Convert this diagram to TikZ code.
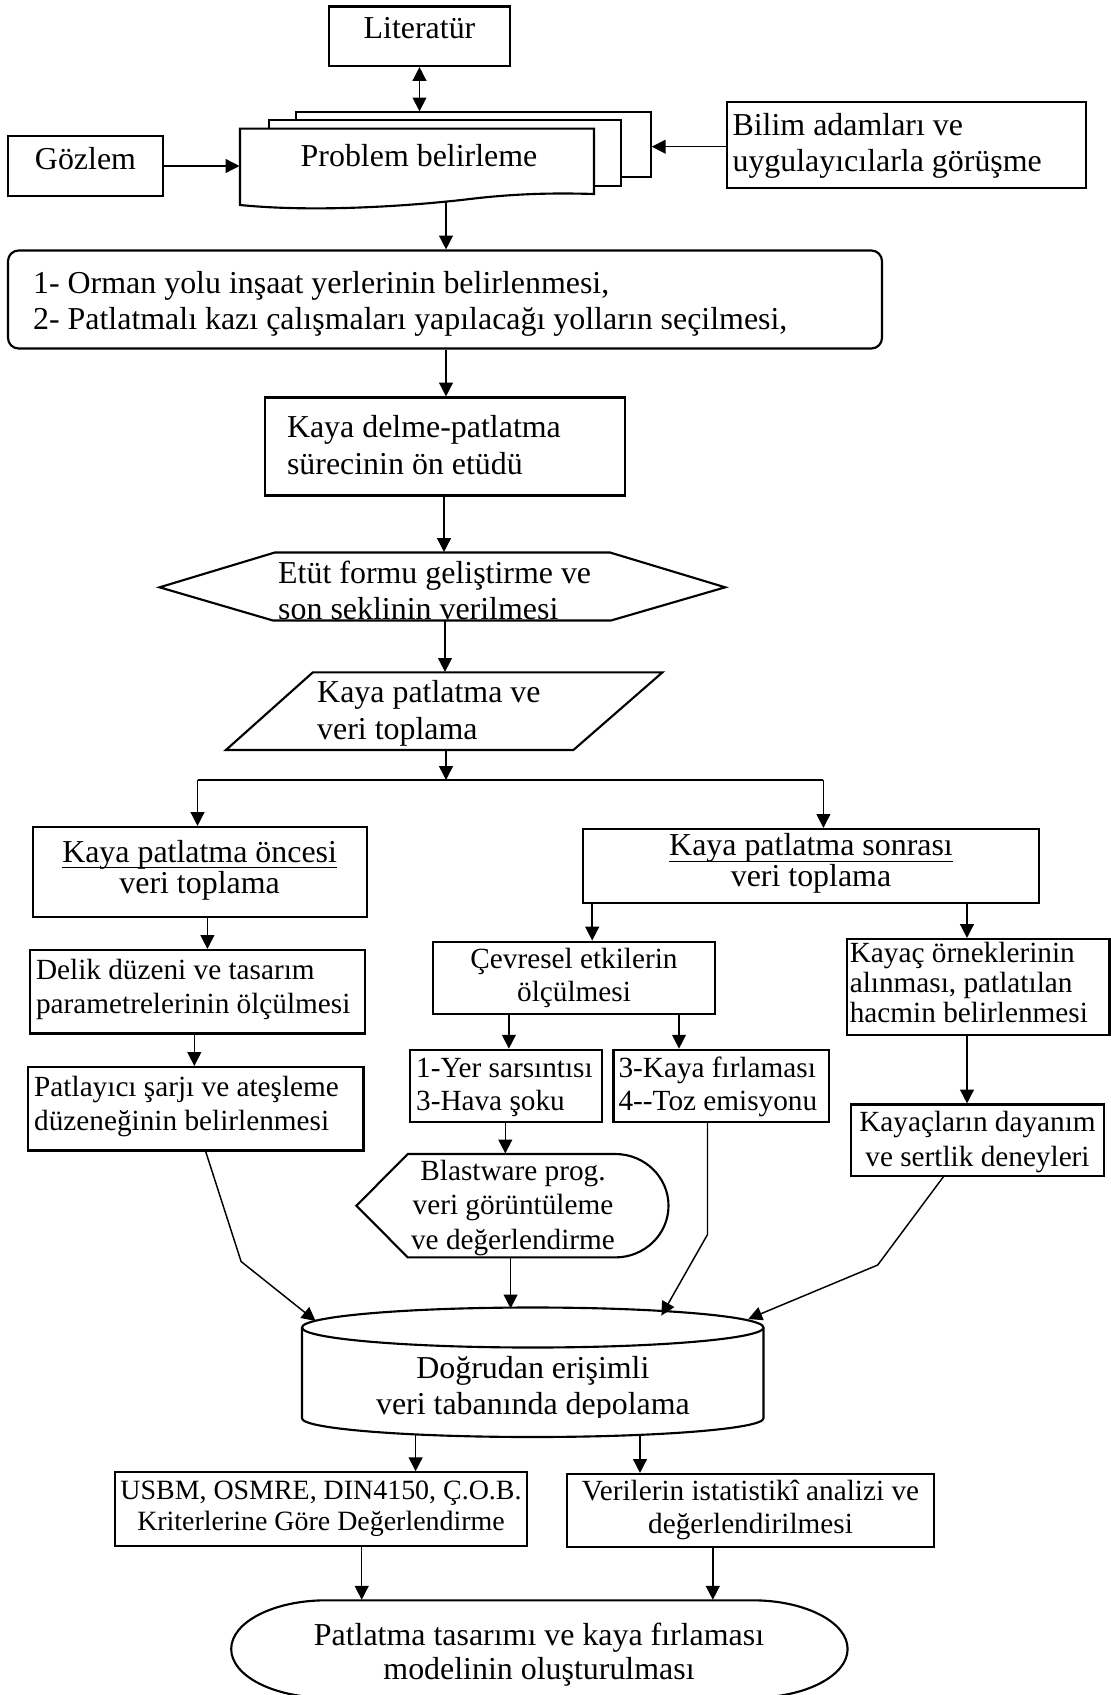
\documentclass[tikz,border=0pt]{standalone}
\usepackage{fontspec}
\setmainfont{Liberation Serif}
\usetikzlibrary{arrows.meta,fit}
\newcommand\myuline[1]{\setbox0=\hbox{#1}\rlap{\rule[-2.4pt]{\wd0}{0.5pt}}\box0}
\tikzset{
  bx/.style={draw, line width=0.8pt, inner sep=0pt, fill=white},
  ph/.style={inner sep=0pt},
  shp/.style={draw, line width=0.8pt, fill=white},
  ln/.style={line width=0.55pt},
  arr/.style={line width=0.55pt, -{Triangle[length=5.2pt,width=5.2pt]}},
  darr/.style={line width=0.55pt, {Triangle[length=5.2pt,width=5.2pt]}-{Triangle[length=5.2pt,width=5.2pt]}},
  tx/.style 2 args={inner sep=0pt, font=\fontsize{#1}{#2}\selectfont},
}
\begin{document}
\begin{tikzpicture}[x=0.376pt, y=-0.376pt]
\path[use as bounding box, fill=white] (0,0) rectangle (1111,1695);

% Literatur
\node[bx, fit={(329,6.5) (510,66)}] (lit) {};
\node[tx={12}{13.54}, anchor=base] (litT) at (419.5,39) {Literatür};

% document stack
\node[bx, fit={(296,112.4) (650.7,177)}] (back) {};
\node[bx, fit={(269,120) (620.6,185.6)}] (mid) {};
\draw[shp] (240,128.6) -- (594,128.6) -- (594,194) .. controls (560,193) and (520,193) .. (470,199) .. controls (420,205) and (320,213) .. (240,205) -- cycle;
\node[ph, fit={(240,128.6) (594,205)}] (prob) {};
\node[tx={12}{13.54}, anchor=base] (probT) at (419,166) {Problem belirleme};
\draw[darr] (lit.south) -- (lit.south |- back.north);

% Gozlem
\node[bx, fit={(8,136) (163,196)}] (goz) {};
\node[tx={12}{13.54}, anchor=base] (gozT) at (85.5,169.4) {Gözlem};
\draw[arr] (goz.east) -- (goz.east -| prob.west);

% Bilim adamlari
\node[bx, fit={(727.3,102) (1085.8,188)}] (bil) {};
\node[tx={12}{13.9}, anchor=base west, align=left] (bilT) at (732,172) {Bilim adamları ve\\uygulayıcılarla görüşme};
\draw[arr] (bil.west |- 0,146.7) -- (back.east |- 0,146.7);

% list box
\coordinate (pw) at (446,201.5);
\node[bx, rounded corners=4pt, fit={(8,250.5) (882,348.5)}] (lst) {};
\node[tx={12}{13.54}, anchor=base west, align=left] (lstT) at (32.6,329.7) {1- Orman yolu inşaat yerlerinin belirlenmesi,\\2- Patlatmalı kazı çalışmaları yapılacağı yolların seçilmesi,};
\draw[arr] (pw) -- (pw |- lst.north);

% delme
\node[bx, fit={(265,397.5) (625,495.5)}] (dlm) {};
\node[tx={12}{13.6}, anchor=base west, align=left] (dlmT) at (286.5,474) {Kaya delme-patlatma\\sürecinin ön etüdü};
\draw[arr] (lst.south -| 446,0) -- (dlm.north -| 446,0);

% etut hexagon
\draw[shp] (159.6,587.3) -- (274.8,552.5) -- (610,552.5) -- (725.2,587.3) -- (611,620.5) -- (273,620.5) -- cycle;
\node[ph, fit={(159.6,552.5) (725.2,620.5)}] (etu) {};
\begin{scope}
\clip (0,552.5) rectangle (1111,620.2);
\node[tx={12}{13.54}, anchor=base west, align=left] (etuT) at (277.7,619.5) {Etüt formu geliştirme ve\\son şeklinin verilmesi};
\end{scope}
\draw[arr] (dlm.south -| 444,0) -- (etu.north -| 444,0);

% parallelogram
\draw[shp] (312.8,672.4) -- (662.4,672.4) -- (573.4,750) -- (225.9,750) -- cycle;
\node[ph, fit={(225.9,672.4) (662.4,750)}] (par) {};
\node[tx={12}{14.2}, anchor=base west, align=left] (parT) at (316.7,739.8) {Kaya patlatma ve\\veri toplama};
\draw[arr] (etu.south -| 445,0) -- (par.north -| 445,0);

% branch
\coordinate (br) at (446,780);
\coordinate (brL) at (197.5,780);
\coordinate (brR) at (823.4,780);
\draw[arr] (par.south -| br) -- (br);
\draw[ln] (brL) -- (brR);

% oncesi
\node[bx, fit={(32.6,827) (367,917)}] (onc) {};
\node[tx={12}{11.66}, anchor=base, align=center] (oncT) at (199.6,893) {\myuline{Kaya patlatma öncesi}\\veri toplama};
\draw[arr] (brL) -- (brL |- onc.north);

% sonrasi
\node[bx, fit={(582.7,829) (1039,902.7)}] (son) {};
\node[tx={12}{11.5}, anchor=base, align=center] (sonT) at (811,886.4) {\myuline{Kaya patlatma sonrası}\\veri toplama};
\draw[arr] (brR) -- (brR |- son.north);

% delik
\node[bx, fit={(30.1,950) (365.2,1033.5)}] (del) {};
\node[tx={11}{12.86}, anchor=base west, align=left] (delT) at (35.5,1013.6) {Delik düzeni ve tasarım\\parametrelerinin ölçülmesi};
\draw[arr] (onc.south -| 207.4,0) -- (del.north -| 207.4,0);

% patlayici
\node[bx, fit={(28.4,1067) (363.5,1150.5)}] (pat) {};
\node[tx={11}{12.6}, anchor=base west, align=left] (patT) at (33.7,1130) {Patlayıcı şarjı ve ateşleme\\düzeneğinin belirlenmesi};
\draw[arr] (del.south -| 194.3,0) -- (pat.north -| 194.3,0);

% cevresel
\node[bx, fit={(433.3,941.6) (714.6,1013.6)}] (cev) {};
\node[tx={11}{12.18}, anchor=base, align=center] (cevT) at (574,1001) {Çevresel etkilerin\\ölçülmesi};
\draw[arr] (son.south -| 592.2,0) -- (cev.north -| 592.2,0);

% kayac ornekleri
\node[bx, fit={(846.8,939) (1109.5,1035.3)}] (kor) {};
\node[tx={11}{11.1}, anchor=base west, align=left] (korT) at (849.3,1022) {Kayaç örneklerinin\\alınması, patlatılan\\hacmin belirlenmesi};
\draw[arr] (son.south -| 967,0) -- (kor.north -| 967,0);

% yer sarsintisi
\node[bx, fit={(410.3,1049.7) (602.2,1122)}] (yer) {};
\node[tx={11}{12.4}, anchor=base west, align=left] (yerT) at (415.6,1110.5) {1-Yer sarsıntısı\\3-Hava şoku};
\draw[arr] (cev.south -| 508.9,0) -- (yer.north -| 508.9,0);

% kaya firlamasi
\node[bx, fit={(613.5,1049.7) (829,1122)}] (kf) {};
\node[tx={11}{12.4}, anchor=base west, align=left] (kfT) at (618,1110.5) {3-Kaya fırlaması\\4-\kern0pt-Toz emisyonu};
\draw[arr] (cev.south -| 679,0) -- (kf.north -| 679,0);

% dayanim
\node[bx, fit={(851,1104.5) (1104,1175.8)}] (day) {};
\node[tx={11}{12.9}, anchor=base, align=center] (dayT) at (977.5,1166) {Kayaçların dayanım\\ve sertlik deneyleri};
\draw[arr] (kor.south -| 967,0) -- (day.north -| 967,0);

% blastware display shape
\draw[shp] (356.4,1205.7) -- (407.8,1154) -- (615.3,1154) .. controls (644.7,1154) and (668.5,1177.2) .. (668.5,1205.7) .. controls (668.5,1234.2) and (644.7,1257.4) .. (615.3,1257.4) -- (407.8,1257.4) -- cycle;
\node[ph, fit={(356.4,1154) (668.5,1257.4)}] (bla) {};
\node[tx={11}{12.9}, anchor=base, align=center] (blaT) at (513,1249) {Blastware prog.\\veri görüntüleme\\ve değerlendirme};
\draw[arr] (yer.south -| 505.3,0) -- (bla.north -| 505.3,0);

% database cylinder
\draw[shp] (302,1327.5) -- (302,1418.3) .. controls (302,1428.6) and (405.3,1437) .. (532.7,1437) .. controls (660.1,1437) and (763.5,1428.6) .. (763.5,1418.3) -- (763.5,1327.5) .. controls (763.5,1316.45) and (660.1,1307.5) .. (532.7,1307.5) .. controls (405.3,1307.5) and (302,1316.45) .. (302,1327.5) -- cycle;
\draw[line width=0.8pt] (302,1327.5) .. controls (302,1338.55) and (405.3,1347.5) .. (532.7,1347.5) .. controls (660.1,1347.5) and (763.5,1338.55) .. (763.5,1327.5);
\node[ph, fit={(302,1307.5) (763.5,1437)}] (db) {};
\begin{scope}
\clip (0,1340) rectangle (1111,1417);
\node[tx={12}{13.57}, anchor=base, align=center] (dbT) at (532.9,1414.7) {Doğrudan erişimli\\veri tabanında depolama};
\end{scope}
\coordinate (dbi1) at (315.6,1321);
\coordinate (dbi2) at (510.6,1308.4);
\coordinate (dbi3) at (661.4,1315.6);
\coordinate (dbi4) at (748.3,1319);
\draw[arr] (pat.south -| 205.7,0) -- (241.1,1261.5) -- (dbi1);
\draw[arr] (bla.south -| dbi2) -- (dbi2);
\draw[arr] (kf.south -| 707.5,0) -- (707.5,1234.5) -- (dbi3);
\draw[arr] (day.south -| 943.3,0) -- (877.7,1265) -- (dbi4);

% outputs
\coordinate (dbo1) at (415.6,1434.4);
\coordinate (dbo2) at (640,1434.9);
\node[bx, fit={(115.2,1472.3) (526.6,1546.2)}] (usb) {};
\node[tx={10.5}{11.77}, anchor=base, align=center] (usbT) at (321,1530.7) {USBM, OSMRE, DIN4150, Ç.O.B.\\Kriterlerine Göre Değerlendirme};
\node[bx, fit={(566.7,1474) (933.7,1547.3)}] (ver) {};
\node[tx={11}{12.5}, anchor=base, align=center] (verT) at (750.5,1533.6) {Verilerin istatistikî analizi ve\\değerlendirilmesi};
\draw[arr] (dbo1) -- (dbo1 |- usb.north);
\draw[arr] (dbo2) -- (dbo2 |- ver.north);

% final terminator
\draw[shp] (326.2,1600.3) .. controls (273.7,1600.3) and (231.2,1622.1) .. (231.2,1649) .. controls (231.2,1675.9) and (273.7,1697.7) .. (326.2,1697.7) -- (752.6,1697.7) .. controls (805.1,1697.7) and (847.6,1675.9) .. (847.6,1649) .. controls (847.6,1622.1) and (805.1,1600.3) .. (752.6,1600.3) -- cycle;
\node[ph, fit={(231.2,1600.3) (847.6,1697.7)}] (fin) {};
\node[tx={12}{12.9}, anchor=base, align=center] (finT) at (539,1679.6) {Patlatma tasarımı ve kaya fırlaması\\modelinin oluşturulması};
\draw[arr] (usb.south -| 361.7,0) -- (fin.north -| 361.7,0);
\draw[arr] (ver.south -| 712.8,0) -- (fin.north -| 712.8,0);
\end{tikzpicture}
\end{document}
